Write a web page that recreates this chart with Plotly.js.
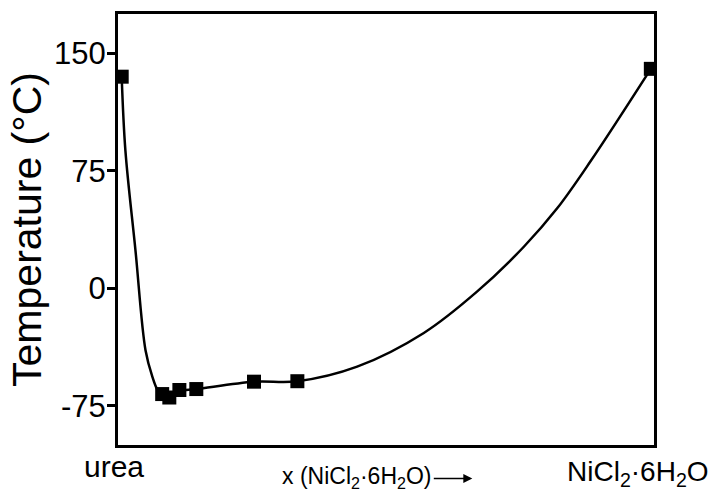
<!DOCTYPE html>
<html>
<head>
<meta charset="utf-8">
<script src="https://cdn.plot.ly/plotly-3.0.1.min.js"></script>
<style>html,body{margin:0;padding:0;background:#fff;}#chart{width:712px;height:491px;}</style>
</head>
<body>
<div id="chart"></div>
<script>
// Measured points: mole fraction x(NiCl2·6H2O) vs temperature (°C)
var pointX = [0, 0.0765, 0.090, 0.109, 0.141, 0.250, 0.332, 1.0];
var pointY = [135, -67.5, -69.7, -64.9, -64.3, -59.6, -59.3, 140];

// Smooth guide curve
var curveX = [0, 0.007, 0.026, 0.045, 0.058, 0.068, 0.0765, 0.090, 0.109, 0.141, 0.250, 0.332, 0.445, 0.571, 0.672, 0.760, 0.823, 0.886, 1.0];
var curveY = [135, 87.8, 24.2, -39.5, -56.5, -65, -67.5, -68.5, -65.5, -64.3, -59.6, -59.3, -50, -28.5, -2, 26.5, 51, 81, 140];

var yTicks = [-75, 0, 75, 150];
var yTickText = ['-75', '0', '75', '150'];

var font = 'Arial, "Liberation Sans", sans-serif';

var traces = [
  {x: curveX, y: curveY, mode: 'lines', type: 'scatter',
   line: {color: '#000', width: 2.5, shape: 'spline', smoothing: 1},
   hoverinfo: 'skip', showlegend: false},
  {x: pointX, y: pointY, mode: 'markers', type: 'scatter',
   marker: {symbol: 'square', size: 14, color: '#000'},
   cliponaxis: true, showlegend: false}
];

var layout = {
  width: 712, height: 491,
  margin: {l: 118, r: 58, t: 14, b: 46},
  paper_bgcolor: '#fff', plot_bgcolor: '#fff',
  showlegend: false,
  font: {family: font, color: '#000'},
  xaxis: {
    range: [-0.007, 1.006], showticklabels: false, ticks: '',
    showline: true, mirror: true, linewidth: 3, linecolor: '#000',
    showgrid: false, zeroline: false
  },
  yaxis: {
    range: [-100, 175], tickvals: yTicks, ticktext: yTickText,
    ticks: 'outside', ticklen: 8, tickwidth: 3, tickcolor: '#000',
    ticklabelstandoff: -5,
    tickfont: {size: 31, family: font, color: '#000'},
    showline: true, mirror: true, linewidth: 3, linecolor: '#000',
    showgrid: false, zeroline: false,
    title: {text: 'Temperature (°C)', font: {size: 41, family: font, color: '#000'}, standoff: 0}
  },
  annotations: [
    {xref: 'paper', yref: 'paper', x: -0.008, y: -0.049, text: 'urea',
     showarrow: false, xanchor: 'center', yanchor: 'middle', font: {size: 30, family: font, color: '#000'}},
    {xref: 'paper', yref: 'paper', x: 0.971, y: -0.066, text: 'NiCl<sub>2</sub>·6H<sub>2</sub>O',
     showarrow: false, xanchor: 'center', yanchor: 'middle', font: {size: 28, family: font, color: '#000'}},
    {xref: 'paper', yref: 'paper', x: 0.446, y: -0.075, text: 'x (NiCl<sub>2</sub>·6H<sub>2</sub>O)',
     showarrow: false, xanchor: 'center', yanchor: 'middle', font: {size: 23, family: font, color: '#000'}},
    {xref: 'paper', yref: 'paper', x: 0.661, y: -0.078, text: '',
     showarrow: true, ax: -40, ay: 0, arrowhead: 2, arrowsize: 1.2, arrowwidth: 1.5, arrowcolor: '#000'}
  ]
};

Plotly.newPlot('chart', traces, layout, {displayModeBar: false, staticPlot: true});
</script>
</body>
</html>
